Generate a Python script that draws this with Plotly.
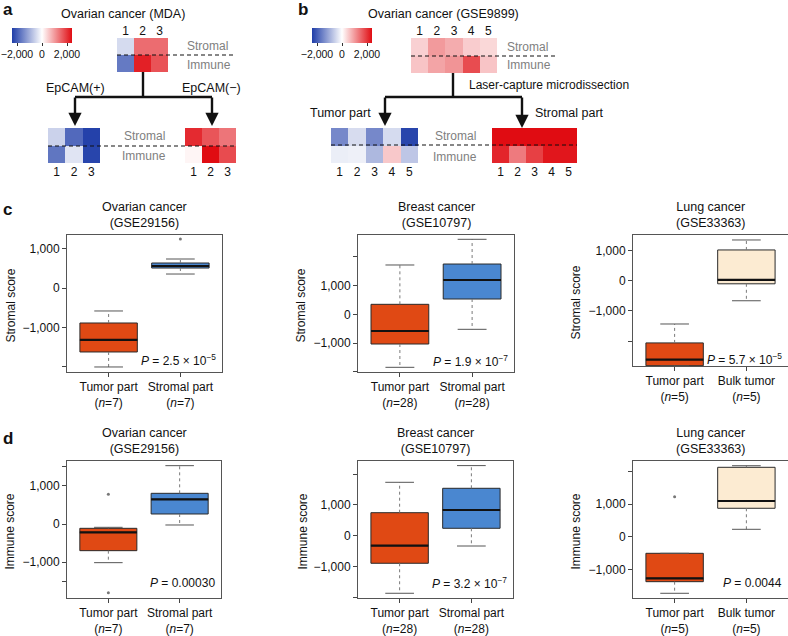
import plotly.graph_objects as go

W, H = 788, 636
FONT = "Liberation Sans, Arial, sans-serif"

# ---------------- heatmap values (panels a, b) ----------------
a_cols = ["1", "2", "3"]
b_cols = ["1", "2", "3", "4", "5"]
rows = ["Stromal", "Immune"]

a_mda_stromal = [-450, 1450, 1450]
a_mda_immune = [-1650, 2200, 1700]
a_epcam_pos_stromal = [-560, -1850, -2350]
a_epcam_pos_immune = [-1700, -330, -2300]
a_epcam_neg_stromal = [2100, 1680, 1360]
a_epcam_neg_immune = [100, 2400, 1780]

b_bulk_stromal = [460, 1000, 820, 500, 390]
b_bulk_immune = [580, 900, 1060, 1770, 580]
b_tumor_stromal = [-1470, -430, -1470, -450, -2300]
b_tumor_immune = [-210, -180, -880, 540, -700]
b_stroma_stromal = [2400, 2400, 2400, 2400, 2400]
b_stroma_immune = [2150, 1310, 1890, 2300, 2300]

cbar_ticks = [-2000, 0, 2000]
cbar_text = ["−2,000", "0", "2,000"]

# ---------------- box summaries: [lower whisker, Q1, median, Q3, upper whisker] ----------------
c_ov_tumor = [-2000, -1620, -1316, -886, -582]
c_ov_stroma = [354, 506, 557, 633, 734]
c_ov_stroma_out = [1240]
c_br_tumor = [-1847, -1035, -582, 348, 1718]
c_br_stroma = [-523, 533, 1195, 1752, 2613]
c_lu_tumor = [-2830, -2820, -2616, -2063, -1434]
c_lu_bulk = [-662, -99, 33, 1026, 1358]

d_ov_tumor = [-1012, -698, -218, -113, -87]
d_ov_tumor_out = [777, -1798]
d_ov_stroma = [-26, 262, 646, 803, 1527]
d_br_tumor = [-1876, -899, -326, 749, 1739]
d_br_stroma = [-336, 241, 837, 1544, 2283]
d_lu_tumor = [-1731, -1376, -1272, -508, -508]
d_lu_tumor_out = [1223]
d_lu_bulk = [226, 869, 1092, 2122, 2171]

lbl_ov = ["Tumor part<br>(<i>n</i>=7)", "Stromal part<br>(<i>n</i>=7)"]
lbl_br = ["Tumor part<br>(<i>n</i>=28)", "Stromal part<br>(<i>n</i>=28)"]
lbl_lu = ["Tumor part<br>(<i>n</i>=5)", "Bulk tumor<br>(<i>n</i>=5)"]

ORANGE = "#E04914"
BLUE = "#4A87D0"
CREAM = "#FCEBD2"
BOXLINE = "#2a2a2a"


def hx(p):
    return p / W


def hy(p):
    return 1 - p / H


def axname(n, k):
    return f"{k}axis" if n == 1 else f"{k}axis{n}"


def axref(n, k):
    return k if n == 1 else f"{k}{n}"


heat_panels = [
    (1, (117, 168, 38, 72), a_cols, a_mda_stromal, a_mda_immune, "coloraxis", "top"),
    (2, (48, 100, 128, 163), a_cols, a_epcam_pos_stromal, a_epcam_pos_immune, "coloraxis", "bottom"),
    (3, (185, 236, 128, 163), a_cols, a_epcam_neg_stromal, a_epcam_neg_immune, "coloraxis", "bottom"),
    (4, (411, 497, 38, 73), b_cols, b_bulk_stromal, b_bulk_immune, "coloraxis2", "top"),
    (5, (331, 418, 128, 163), b_cols, b_tumor_stromal, b_tumor_immune, "coloraxis2", "bottom"),
    (6, (492, 577, 128, 163), b_cols, b_stroma_stromal, b_stroma_immune, "coloraxis2", "bottom"),
]

box_panels = [
    dict(box=(67, 222, 235, 372), yr=[-2127, 1342],
         tv=[-2000, -1000, 0, 1000], tt=["", "−1,000", "0", "1,000"],
         title="Ovarian cancer<br>(GSE29156)", ytitle="Stromal score", ytx=10, labels=lbl_ov,
         groups=[(c_ov_tumor, ORANGE, []), (c_ov_stroma, BLUE, c_ov_stroma_out)],
         p="<i>P</i> = 2.5 × 10<sup>−5</sup>", py=360),
    dict(box=(358, 514, 235, 372), yr=[-2010, 2763],
         tv=[-2000, -1000, 0, 1000, 2000], tt=["", "−1,000", "0", "1,000", ""],
         title="Breast cancer<br>(GSE10797)", ytitle="Stromal score", ytx=300, labels=lbl_br,
         groups=[(c_br_tumor, ORANGE, []), (c_br_stroma, BLUE, [])],
         p="<i>P</i> = 1.9 × 10<sup>−7</sup>", py=361),
    dict(box=(633, 788, 235, 366), yr=[-2830, 1523],
         tv=[-2000, -1000, 0, 1000], tt=["", "−1,000", "0", "1,000"],
         title="Lung cancer<br>(GSE33363)", ytitle="Stromal score", ytx=575, labels=lbl_lu,
         groups=[(c_lu_tumor, ORANGE, []), (c_lu_bulk, CREAM, [])],
         p="<i>P</i> = 5.7 × 10<sup>−5</sup>", py=359),
    dict(box=(67, 221, 461, 598), yr=[-1937, 1649],
         tv=[-1500, -1000, 0, 1000, 1500], tt=["", "−1,000", "0", "1,000", ""],
         title="Ovarian cancer<br>(GSE29156)", ytitle="Immune score", ytx=9, labels=lbl_ov,
         groups=[(d_ov_tumor, ORANGE, d_ov_tumor_out), (d_ov_stroma, BLUE, [])],
         p="<i>P</i> = 0.00030", py=583),
    dict(box=(358, 513, 461, 598), yr=[-2030, 2433],
         tv=[-2000, -1000, 0, 1000, 2000], tt=["", "−1,000", "0", "1,000", ""],
         title="Breast cancer<br>(GSE10797)", ytitle="Immune score", ytx=302, labels=lbl_br,
         groups=[(d_br_tumor, ORANGE, []), (d_br_stroma, BLUE, [])],
         p="<i>P</i> = 3.2 × 10<sup>−7</sup>", py=583),
    dict(box=(633, 788, 461, 598), yr=[-1875, 2315],
         tv=[-1000, 0, 1000, 2000], tt=["−1,000", "0", "1,000", ""],
         title="Lung cancer<br>(GSE33363)", ytitle="Immune score", ytx=575, labels=lbl_lu,
         groups=[(d_lu_tumor, ORANGE, d_lu_tumor_out), (d_lu_bulk, CREAM, [])],
         p="<i>P</i> = 0.0044", py=583),
]

fig = go.Figure()
axes = {}
notes = []
shapes = []

# heatmaps
for n, (x0, x1, y0, y1), cols, top_row, bot_row, cax, side in heat_panels:
    fig.add_trace(go.Heatmap(z=[top_row, bot_row], x=cols, y=rows, coloraxis=cax,
                             xaxis=axref(n, "x"), yaxis=axref(n, "y"), hoverinfo="skip"))
    axes[axname(n, "x")] = dict(domain=[hx(x0), hx(x1)], anchor=axref(n, "y"), type="category",
                                side=side, showgrid=False, zeroline=False, showline=False,
                                ticks="", tickfont=dict(size=12, color="#111"))
    axes[axname(n, "y")] = dict(domain=[hy(y1), hy(y0)], anchor=axref(n, "x"), autorange="reversed",
                                showticklabels=False, showgrid=False, zeroline=False)

# box plots
for n, p in enumerate(box_panels, start=7):
    x0, x1, y0, y1 = p["box"]
    xr, yr = axref(n, "x"), axref(n, "y")
    for pos, (stats, color, out) in enumerate(p["groups"], start=1):
        lw, q1, med, q3, uw = stats
        fig.add_trace(go.Scatter(x=[pos, pos, None, pos, pos], y=[q3, uw, None, q1, lw], mode="lines",
                                 line=dict(color="#7a7a7a", width=1, dash="dot"),
                                 xaxis=xr, yaxis=yr, hoverinfo="skip"))
        fig.add_trace(go.Scatter(x=[pos - 0.2, pos + 0.2, None, pos - 0.2, pos + 0.2],
                                 y=[uw, uw, None, lw, lw], mode="lines",
                                 line=dict(color="#555", width=1), xaxis=xr, yaxis=yr, hoverinfo="skip"))
        fig.add_trace(go.Box(x=[pos], q1=[q1], median=[med], q3=[q3], lowerfence=[q1], upperfence=[q3],
                             width=0.8, whiskerwidth=0, fillcolor=color, line=dict(color=BOXLINE, width=1),
                             boxpoints=False, xaxis=xr, yaxis=yr, hoverinfo="skip"))
        fig.add_trace(go.Scatter(x=[pos - 0.4, pos + 0.4], y=[med, med], mode="lines",
                                 line=dict(color="#111", width=2.2), xaxis=xr, yaxis=yr, hoverinfo="skip"))
        if out:
            fig.add_trace(go.Scatter(x=[pos] * len(out), y=out, mode="markers",
                                     marker=dict(color="#777", size=3), xaxis=xr, yaxis=yr, hoverinfo="skip"))
    axes[axname(n, "x")] = dict(domain=[hx(x0), hx(x1)], anchor=yr, range=[0.42, 2.58],
                                tickvals=[1, 2], ticktext=p["labels"], ticks="outside", ticklen=4,
                                tickcolor="#444", showline=True, mirror=True, linecolor="#555",
                                linewidth=1, showgrid=False, zeroline=False,
                                tickfont=dict(size=12, color="#111"))
    axes[axname(n, "y")] = dict(domain=[hy(y1), hy(y0)], anchor=xr, range=p["yr"],
                                tickvals=p["tv"], ticktext=p["tt"], ticks="outside", ticklen=4,
                                tickcolor="#444", showline=True, mirror=True, linecolor="#555",
                                linewidth=1, showgrid=False, zeroline=False,
                                tickfont=dict(size=12, color="#111"))
    notes.append(dict(x=hx((x0 + x1) / 2), y=hy(y0 - 20.5), text=p["title"], showarrow=False,
                      xanchor="center", yanchor="middle", font=dict(size=12.5)))
    notes.append(dict(x=hx(p["ytx"]), y=hy((y0 + y1) / 2 + 2), text=p["ytitle"], showarrow=False,
                      textangle=-90, xanchor="center", yanchor="middle", font=dict(size=12)))
    notes.append(dict(x=hx(x1 - 4), y=hy(p["py"]), text=p["p"], showarrow=False,
                      xanchor="right", yanchor="middle", font=dict(size=12)))

# diagram lines for panels a and b
for xa, xb, yy in [(117, 235, 55), (48, 237, 146), (411, 557, 56), (331, 577, 145)]:
    shapes.append(dict(type="line", xref="paper", yref="paper", x0=hx(xa), x1=hx(xb), y0=hy(yy), y1=hy(yy),
                       line=dict(color="#111", width=1.2, dash="4px,3px")))
for xa, ya, xb, yb in [(143, 72, 143, 97), (75, 97, 212, 97), (453, 73, 453, 97), (385, 97, 522, 97)]:
    shapes.append(dict(type="line", xref="paper", yref="paper", x0=hx(xa), x1=hx(xb), y0=hy(ya), y1=hy(yb),
                       line=dict(color="#111", width=2.4)))
for xa, ytop, ybot in [(75, 96, 126), (212, 96, 126), (385, 96, 126), (522, 96, 128)]:
    notes.append(dict(x=hx(xa), y=hy(ybot), ax=0, ay=-(ybot - ytop), text="", showarrow=True,
                      arrowhead=2, arrowsize=1.1, arrowwidth=2.4, arrowcolor="#111", standoff=0))

labels = [
    ("<b>a</b>", 8, 10, "center", 17, "#111"),
    ("<b>b</b>", 303, 10, "center", 17, "#111"),
    ("<b>c</b>", 8, 209, "center", 17, "#111"),
    ("<b>d</b>", 8, 438, "center", 17, "#111"),
    ("Ovarian cancer (MDA)", 123, 14, "center", 12.5, "#111"),
    ("Ovarian cancer (GSE9899)", 443, 14, "center", 12.5, "#111"),
    ("Stromal", 185, 46, "left", 12, "#808080"),
    ("Immune", 185, 65, "left", 12, "#808080"),
    ("Stromal", 144, 136, "center", 12, "#808080"),
    ("Immune", 144, 156, "center", 12, "#808080"),
    ("Stromal", 505, 47, "left", 12, "#808080"),
    ("Immune", 505, 65, "left", 12, "#808080"),
    ("Stromal", 455, 136, "center", 12, "#808080"),
    ("Immune", 455, 157, "center", 12, "#808080"),
    ("EpCAM(+)", 75, 88, "center", 12.5, "#111"),
    ("EpCAM(−)", 212, 88, "center", 12.5, "#111"),
    ("Laser-capture microdissection", 467, 85, "left", 12, "#111"),
    ("Tumor part", 340, 113, "center", 12.5, "#111"),
    ("Stromal part", 533, 113, "left", 12.5, "#111"),
]
for text, x, y, anchor, size, color in labels:
    notes.append(dict(x=hx(x), y=hy(y), text=text, showarrow=False, xanchor=anchor, yanchor="middle",
                      font=dict(size=size, color=color)))

for a in notes:
    a["xref"] = "paper"
    a["yref"] = "paper"

scale = [[0, "#1f3da8"], [0.5, "#ffffff"], [1, "#e00c12"]]


def cbar(xc):
    return dict(orientation="h", x=hx(xc), xanchor="center", y=hy(28), yanchor="top",
                len=60, lenmode="pixels", thickness=15, thicknessmode="pixels",
                tickvals=cbar_ticks, ticktext=cbar_text, ticks="outside", ticklen=3,
                tickcolor="#333", outlinewidth=0, xpad=0, ypad=0,
                tickfont=dict(size=10.5, color="#111"))


fig.update_layout(
    width=W, height=H, margin=dict(l=0, r=0, t=0, b=0, autoexpand=False),
    paper_bgcolor="white", plot_bgcolor="white", showlegend=False,
    font=dict(family=FONT, color="#111"),
    coloraxis=dict(colorscale=scale, cmin=-2400, cmax=2400, colorbar=cbar(42)),
    coloraxis2=dict(colorscale=scale, cmin=-2400, cmax=2400, colorbar=cbar(342)),
    annotations=notes, shapes=shapes,
    **axes,
)

fig.write_html("out.html", config={"displayModeBar": False},
               post_script="document.body.style.margin='0';")
